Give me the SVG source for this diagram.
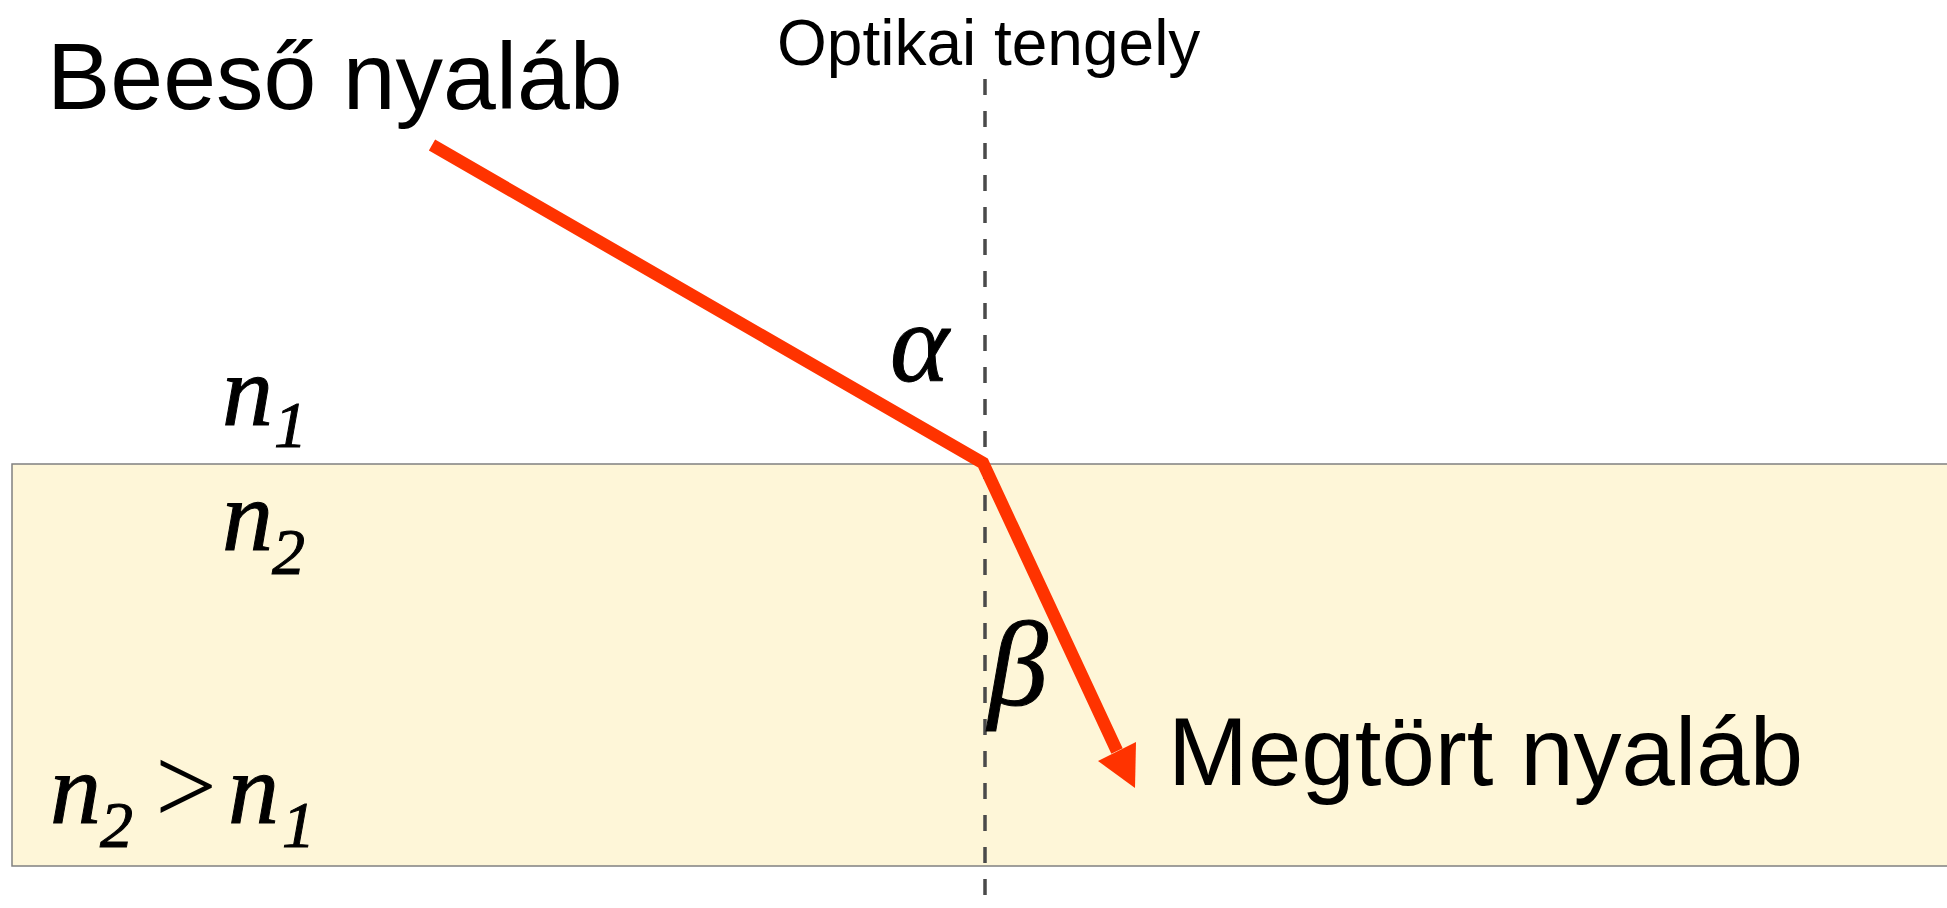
<svg xmlns="http://www.w3.org/2000/svg" width="1947" height="908" viewBox="0 0 1947 908">
<style>
.lbl{font-family:"Liberation Sans",Arial,sans-serif;fill:#000}
.math{font-family:"Liberation Serif","Times New Roman",serif;font-style:italic;fill:#000;stroke:#000;stroke-width:1}
.ray{fill:none;stroke:#FF3300;stroke-width:12.5;stroke-linejoin:miter;stroke-linecap:butt}
</style>
<rect width="1947" height="908" fill="#fff"/>
<g id="medium2">
<rect x="12" y="464" width="1950" height="402" fill="#FEF6D8" stroke="#808080" stroke-width="1.5"/>
</g>
<g id="axis">
<line x1="985" y1="79" x2="985" y2="895" stroke="#4a4a4a" stroke-width="3.5" stroke-dasharray="16 16"/>
<text class="lbl" x="777" y="65" font-size="64">Optikai tengely</text>
</g>
<g id="connectors">
<polyline class="ray" points="432,145 983,463 1117,751"/>
<polygon points="1135,788 1098,761 1136,742" fill="#FF3300"/>
</g>
<g id="incident">
<text class="lbl" x="47" y="109" font-size="95">Beeső nyaláb</text>
</g>
<g id="refracted">
<text class="lbl" x="1168" y="785" font-size="96">Megtört nyaláb</text>
</g>
<g id="alpha"><text class="math" x="890" y="381" font-size="112">α</text></g>
<g id="beta"><text class="math" x="988" y="705" font-size="120">β</text></g>
<g id="n1">
<text class="math" x="222" y="425" font-size="102">n</text>
<text class="math" x="274" y="447" font-size="66">1</text>
</g>
<g id="n2">
<text class="math" x="222" y="550" font-size="102">n</text>
<text class="math" x="272" y="574" font-size="66">2</text>
</g>
<g id="relation">
<text class="math" x="50" y="823" font-size="102">n</text>
<text class="math" x="100" y="847" font-size="66">2</text>
<text x="155" y="823" font-size="110" font-family="Liberation Serif,serif" fill="#000">&gt;</text>
<text class="math" x="228" y="823" font-size="102">n</text>
<text class="math" x="282" y="847" font-size="66">1</text>
</g>
</svg>
